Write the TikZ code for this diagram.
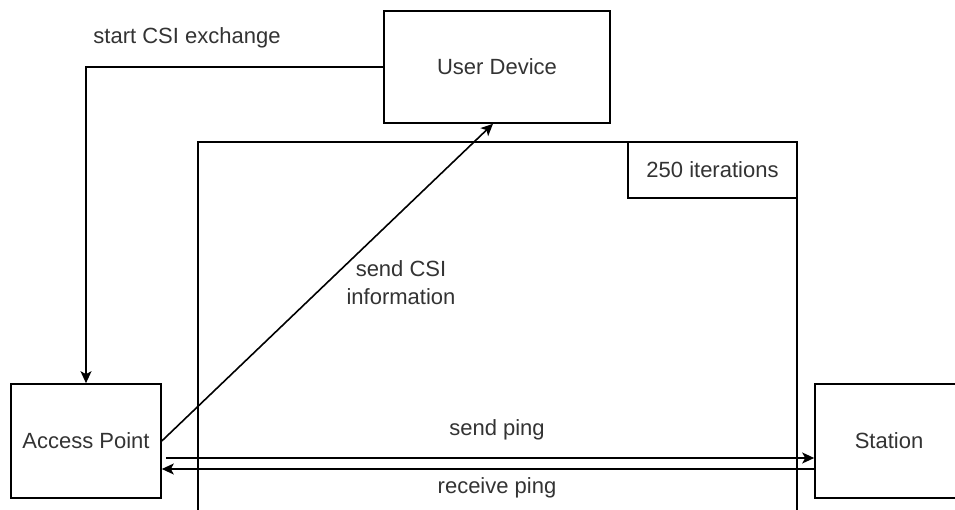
\documentclass[tikz,border=0pt]{standalone}
\usepackage{fontspec}
\setmainfont{Liberation Sans}
\usetikzlibrary{arrows.meta,positioning,calc}
\definecolor{txt}{RGB}{51,51,51}
\tikzset{
  box/.style={draw=black, line width=1.6pt, rectangle, inner sep=0pt, font=\fontsize{22}{28}\selectfont, text=txt},
  lbl/.style={inner sep=0pt, font=\fontsize{22}{28}\selectfont, text=txt, align=center},
  conn/.style={draw=black, line width=1.6pt},
  arr/.style={conn, -{Stealth[length=12pt,width=11pt,inset=3pt]}}
}
\begin{document}
\begin{tikzpicture}[x=1pt,y=-1pt]
\useasboundingbox[fill=white] (0,0) rectangle (955,510);
% loop frame
\node[box, minimum width=599pt, minimum height=420pt] (frame) at (497.5,352) {};
\node[box, minimum width=169pt, minimum height=56pt] (iter) at (712.5,170) {250 iterations};
% devices
\node[box, fill=white, minimum width=226pt, minimum height=112pt] (ud) at (497,67) {User Device};
\node[box, fill=white, minimum width=150pt, minimum height=114pt] (ap) at (86,441) {Access Point};
\node[box, fill=white, minimum width=148pt, minimum height=114pt] (st) at (889,441) {Station};
% connectors
\coordinate (corner) at (86,67);
\draw[arr] (ud.west) -- (corner) -- (ap.north);
\draw[arr] (ap.east) -- ([xshift=-4pt]ud.south);
\draw[arr] ([xshift=4pt,yshift=-17pt]ap.east) -- ([yshift=-17pt]st.west);
\draw[arr] ([yshift=-28pt]st.west) -- ([yshift=-28pt]ap.east);
% labels
\node[lbl] (l1) at (187,38) {start CSI exchange};
\node[lbl] (l2) at (401,283) {send CSI\\information};
\node[lbl] (l3) at (497,430) {send ping};
\node[lbl] (l4) at (497,488) {receive ping};
\end{tikzpicture}
\end{document}
